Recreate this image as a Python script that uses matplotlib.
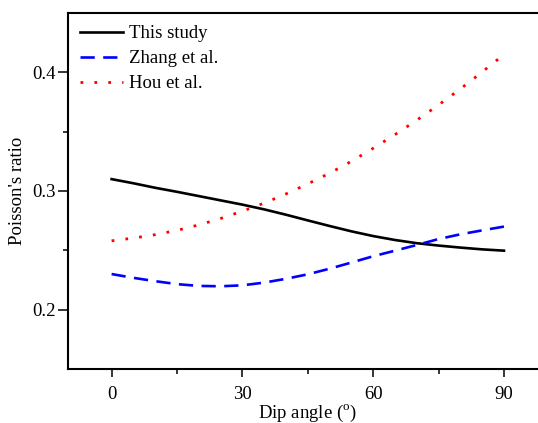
import numpy as np
import matplotlib
matplotlib.use("Agg")
import matplotlib.pyplot as plt

plt.rcParams['font.family'] = ['Liberation Serif', 'DejaVu Serif']
plt.rcParams['mathtext.fontset'] = 'custom'
plt.rcParams['mathtext.rm'] = 'Liberation Serif'

# values, every 5 degrees
dip = [0, 5, 10, 15, 20, 25, 30, 35, 40, 45, 50, 55, 60, 65, 70, 75, 80, 85, 90]
this_study = [0.3100, 0.3065, 0.3027, 0.2993, 0.2957, 0.2921, 0.2885, 0.2845, 0.2800, 0.2752,
              0.2705, 0.2660, 0.2620, 0.2587, 0.2560, 0.2540, 0.2523, 0.2508, 0.2497]
zhang = [0.2300, 0.2268, 0.2240, 0.2215, 0.2200, 0.2197, 0.2205, 0.2228, 0.2260, 0.2298,
         0.2345, 0.2397, 0.2450, 0.2497, 0.2545, 0.2595, 0.2635, 0.2668, 0.2700]
hou = [0.2580, 0.2603, 0.2632, 0.2668, 0.2714, 0.2768, 0.2830, 0.2898, 0.2975, 0.3060,
       0.3150, 0.3250, 0.3360, 0.3475, 0.3597, 0.3725, 0.3860, 0.4003, 0.4150]
labels = ["This study", "Zhang et al.", "Hou et al."]

fig = plt.figure(figsize=(5.38, 4.23), dpi=100)
# right side of the frame runs off the picture, as in the reference
ax = fig.add_axes([0.1264, 0.1277, 0.8914, 0.8416])

ax.plot(dip, this_study, color="black", linewidth=1.9, label=labels[0])
ax.plot(dip, zhang, color="blue", linewidth=1.9, linestyle=(0, (5.4, 3.2)), label=labels[1])
ax.plot(dip, hou, color="red", linewidth=2.0, linestyle=(0, (1, 4.0)), label=labels[2])

ax.set_xlim(-10, 100)
ax.set_ylim(0.15, 0.45)
ax.set_xticks([0, 30, 60, 90])
ax.set_xticks([15, 45, 75], minor=True)
ax.set_yticks([0.2, 0.3, 0.4])
ax.set_yticks([0.25, 0.35], minor=True)
ax.tick_params(axis='y', which='major', direction='out', length=7, width=1.1, labelsize=13.5, pad=1.5)
ax.tick_params(axis='x', which='major', direction='out', length=5.5, width=1.1, labelsize=13.5, pad=6.5)
ax.tick_params(which='minor', direction='out', length=3.5, width=1.1)
for s in ax.spines.values():
    s.set_linewidth(1.5)
ax.spines['right'].set_visible(False)

ax.set_xlabel("Dip angle ($^{\\mathrm{o}}$)", fontsize=13.5, labelpad=0)
ax.set_ylabel("Poisson's ratio", fontsize=13.5, labelpad=5)

ax.legend(loc='upper left', frameon=False, fontsize=13.5, handlelength=2.3,
          handletextpad=0.3, labelspacing=0.42, borderaxespad=0.25)

fig.savefig("out.png", dpi=100)
